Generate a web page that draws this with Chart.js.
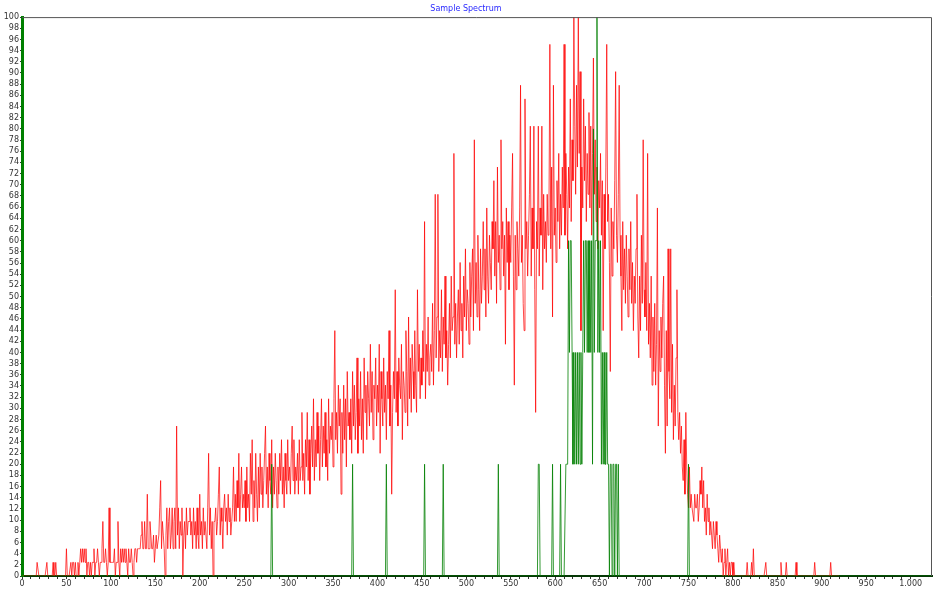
<!DOCTYPE html>
<html>
<head>
<meta charset="utf-8">
<title>Sample Spectrum</title>
<script src="https://cdn.jsdelivr.net/npm/chart.js@4.4.1/dist/chart.umd.min.js"></script>
<style>
  html, body { margin: 0; padding: 0; background: #fff; }
  #wrap { width: 936px; height: 592px; }
</style>
</head>
<body>
<div id="wrap"><canvas id="spectrum" width="936" height="592"></canvas></div>
<script>
// red trace, counts per channel (channel = index); 41 counts = 100
const redCounts = [
  0,0,0,0,0,0,0,0,0,0, 0,0,0,0,0,0,0,1,1,0,
  0,0,0,0,0,0,0,0,1,0, 0,0,0,0,0,1,0,0,1,0,
  0,0,0,0,0,0,0,0,0,0, 2,0,0,0,0,1,0,1,1,0,
  1,0,0,1,0,1,2,1,2,1, 2,1,2,0,1,1,0,1,0,1,
  1,2,0,1,1,2,1,0,1,1, 2,4,1,1,2,1,0,1,5,1,
  1,1,1,1,2,0,1,1,4,1, 0,2,1,2,1,2,1,2,1,0,
  2,1,1,2,1,0,1,2,2,1, 2,2,2,2,3,4,2,2,4,2,
  2,6,2,2,4,3,2,2,3,1, 2,3,2,2,3,5,7,2,4,3,
  2,0,3,5,2,4,5,2,3,5, 2,4,5,2,11,3,5,2,4,3,
  5,0,3,4,2,5,3,4,4,5, 3,4,2,5,3,4,2,5,3,2,
  6,3,4,2,5,3,4,4,2,5, 9,3,5,2,4,0,4,4,5,3,
  4,6,8,3,5,4,2,5,6,4, 5,3,6,4,5,3,4,5,8,4,
  6,4,7,5,9,4,6,8,5,6, 5,7,4,8,5,6,4,9,6,10,
  4,7,5,9,6,4,8,5,9,6, 8,5,7,9,11,6,8,5,9,7,
  6,10,5,8,6,9,7,5,8,6, 9,7,10,6,8,5,9,7,6,10,
  7,8,6,9,11,7,10,6,8,7, 9,6,10,7,8,12,7,9,6,10,
  8,12,7,10,6,9,11,8,13,7, 10,8,12,9,11,7,10,13,8,11,
  9,12,8,10,7,13,9,11,10,12, 8,13,18,10,12,9,14,11,13,6,
  12,9,14,10,13,8,15,11,12,10, 13,9,15,11,14,10,12,16,9,13,
  11,15,10,13,9,16,12,14,10,15, 13,11,17,12,15,10,14,13,16,11,
  14,12,17,9,15,13,11,16,12,14, 10,15,13,18,11,14,6,12,15,13,
  21,12,15,11,16,14,13,17,10,15, 14,12,18,15,11,19,13,16,12,17,
  15,13,18,14,12,21,15,17,13,16, 14,18,15,26,13,17,15,19,14,16,
  17,15,20,14,18,28,16,19,28,15, 18,16,21,15,19,17,22,16,18,14,
  17,20,16,22,18,19,31,17,20,16, 19,21,17,23,18,20,16,22,19,24,
  18,21,20,17,23,19,22,24,18,32, 20,23,19,25,21,18,24,20,22,26,
  21,24,19,27,22,20,25,23,21,26, 24,29,22,26,20,30,23,25,21,32,
  24,26,22,25,17,27,23,26,21,25, 23,27,31,22,14,25,21,26,24,22,
  27,36,23,25,20,18,35,24,26,22, 25,28,33,22,27,24,33,21,12,26,
  24,33,22,27,25,33,21,28,24,26, 23,28,25,27,39,24,30,19,36,25,
  27,23,29,26,31,24,28,25,30,27, 39,25,31,28,24,30,27,35,26,32,
  29,41,33,28,36,30,41,31,37,18, 30,27,35,29,33,26,31,28,34,27,
  33,25,31,38,28,32,26,30,24,29, 27,31,25,29,18,28,24,30,39,26,
  28,23,15,27,22,26,24,29,37,25, 23,28,36,25,22,18,26,21,24,20,
  25,22,19,24,21,26,20,23,18,22, 20,24,28,19,16,22,18,25,20,32,
  21,19,23,18,31,17,20,16,22,14, 19,15,20,14,17,27,11,18,15,19,
  16,20,22,14,9,18,11,24,15,13, 24,12,17,10,14,11,16,21,12,10,
  12,9,11,8,7,10,6,12,8,6, 5,8,5,6,5,5,4,6,5,5,
  6,4,5,7,6,8,5,7,4,5, 3,6,4,5,3,4,3,2,4,3,
  2,4,3,2,1,3,2,1,2,0, 1,2,0,1,2,0,1,0,1,1,
  0,1,0,0,0,0,0,0,0,0, 0,0,0,0,0,0,1,0,0,0,
  0,1,0,2,0,0,0,0,0,0, 0,0,0,0,0,0,0,1,0,0,
  0,0,0,0,0,0,0,0,0,0, 0,0,0,0,1,0,0,0,0,0,
  1,0,0,0,0,0,0,0,0,0, 0,1,0,0,0,0,0,0,0,0,
  0,0,0,0,0,0,0,0,0,0, 0,0,1,0,0,0,0,0,0,0,
  0,0,0,0,0,0,0,0,0,0, 1,0,0,0,0,0,0,0,0,0
];
const RED_SCALE = 100 / 41;

// green trace: channels that are not zero, and their counts (1 count = 20)
const greenChannels = [281, 372, 410, 453, 474, 536, 581, 582, 597, 606, 612, 613,
  614, 615, 616, 617, 618, 619, 620, 621, 622, 623, 624, 625, 626, 627, 628, 629,
  630, 631, 632, 633, 634, 635, 636, 637, 638, 639, 640, 641, 642, 643, 644, 645,
  646, 647, 648, 649, 650, 651, 652, 653, 654, 655, 656, 657, 658, 659, 660, 662,
  663, 665, 666, 668, 669, 671, 750];
const greenCounts = [1, 1, 1, 1, 1, 1, 1, 1, 1, 1, 1, 1,
  1, 3, 2, 3, 3, 2, 1, 2, 1, 2, 1, 2, 1, 2, 1, 2,
  1, 2, 3, 2, 3, 3, 2, 3, 2, 3, 2, 3, 1, 4, 2, 3,
  3, 5, 2, 3, 2, 3, 1, 2, 1, 2, 1, 1, 2, 1, 1, 1,
  1, 1, 1, 1, 1, 1, 1];
const GREEN_SCALE = 20;
const CHANNELS = 1024;

const yTicks = [0, 100, 2];     // min, max, step
const xTicks = [0, 1000, 50];   // labelled every 50

const redPoints = redCounts.map((c, i) => ({ x: i, y: c * RED_SCALE }));
const greenArr = new Array(CHANNELS + 1).fill(0);
greenChannels.forEach((ch, i) => { greenArr[ch] = greenCounts[i] * GREEN_SCALE; });
const greenPoints = greenArr.map((v, i) => ({ x: i, y: v }));

const tickFont = { family: 'DejaVu Sans', size: 8 };

// grey frame on top and right of the plot
const framePlugin = {
  id: 'frame',
  afterDraw(chart) {
    const { ctx, chartArea: a } = chart;
    ctx.save();
    ctx.strokeStyle = '#555';
    ctx.lineWidth = 1;
    ctx.beginPath();
    ctx.moveTo(a.left, a.top + 0.5);
    ctx.lineTo(a.right - 0.5, a.top + 0.5);
    ctx.lineTo(a.right - 0.5, a.bottom);
    ctx.stroke();
    ctx.restore();
  }
};

new Chart(document.getElementById('spectrum'), {
  type: 'line',
  data: {
    datasets: [
      {
        label: 'green',
        data: greenPoints,
        borderColor: 'rgba(0,128,0,0.8)',
        borderWidth: 1,
        borderJoinStyle: 'bevel',
        pointRadius: 0,
        order: 1
      },
      {
        label: 'red',
        data: redPoints,
        borderColor: 'rgba(255,0,0,0.72)',
        borderWidth: 1,
        borderJoinStyle: 'bevel',
        pointRadius: 0,
        order: 2
      }
    ]
  },
  options: {
    responsive: false,
    animation: false,
    events: [],
    layout: { padding: { left: 0, right: 4, top: 0, bottom: 0 } },
    plugins: {
      legend: { display: false },
      tooltip: { enabled: false },
      title: {
        display: true,
        text: 'Sample Spectrum',
        color: '#2828ff',
        font: { family: 'DejaVu Sans', size: 8, weight: 'normal' },
        padding: { top: 4, bottom: 3.5 }
      }
    },
    scales: {
      x: {
        type: 'linear',
        min: 0,
        max: CHANNELS,
        afterFit: (s) => { s.height = 16; },
        afterBuildTicks: (s) => {
          const t = [];
          for (let v = xTicks[0]; v <= xTicks[1]; v += 10) t.push({ value: v });
          s.ticks = t;
        },
        ticks: {
          autoSkip: false,
          maxRotation: 0,
          padding: 0,
          color: '#333',
          font: tickFont,
          callback: (v) => (v % xTicks[2] === 0 ? v.toLocaleString('de-DE') : '')
        },
        grid: { drawOnChartArea: false, tickLength: 3, color: '#333' },
        border: { color: '#063806', width: 2 }
      },
      y: {
        min: yTicks[0],
        max: yTicks[1],
        afterFit: (s) => { s.width = 22; },
        ticks: {
          stepSize: yTicks[2],
          autoSkip: false,
          padding: 1,
          color: '#333',
          font: tickFont
        },
        grid: { drawOnChartArea: false, tickLength: 2, color: '#333' },
        border: { color: 'rgb(0,128,0)', width: 3 }
      }
    }
  },
  plugins: [framePlugin]
});
</script>
</body>
</html>
